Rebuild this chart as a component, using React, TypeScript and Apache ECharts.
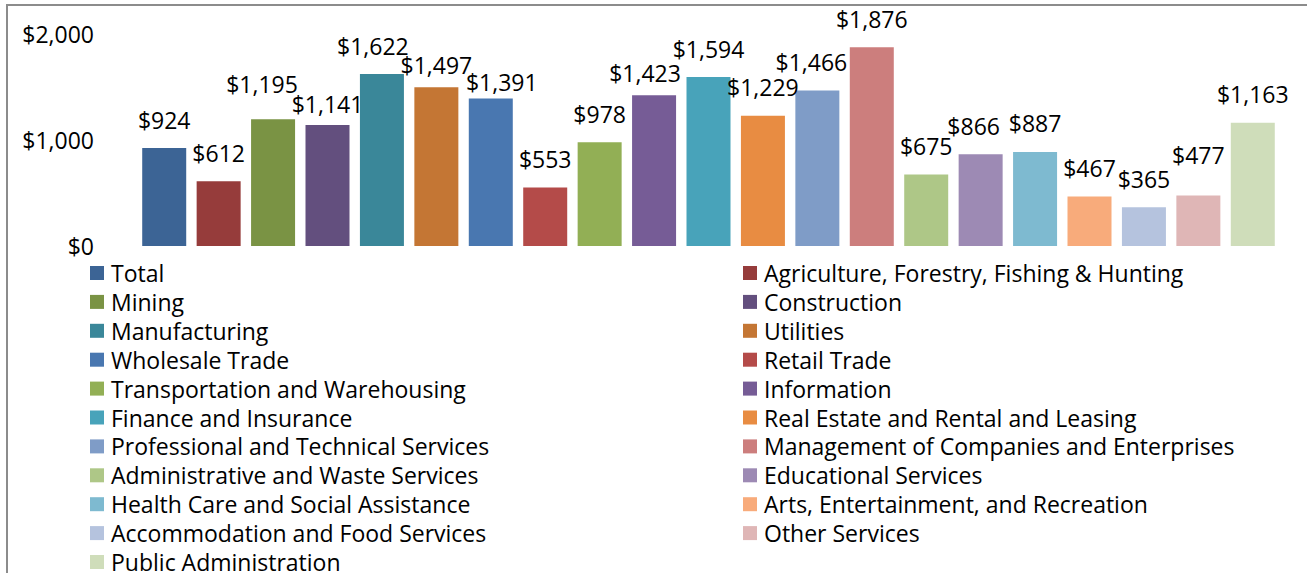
import React, { useEffect, useRef } from "react";
import * as echarts from "echarts";

const industries = [
  "Total",
  "Agriculture, Forestry, Fishing & Hunting",
  "Mining",
  "Construction",
  "Manufacturing",
  "Utilities",
  "Wholesale Trade",
  "Retail Trade",
  "Transportation and Warehousing",
  "Information",
  "Finance and Insurance",
  "Real Estate and Rental and Leasing",
  "Professional and Technical Services",
  "Management of Companies and Enterprises",
  "Administrative and Waste Services",
  "Educational Services",
  "Health Care and Social Assistance",
  "Arts, Entertainment, and Recreation",
  "Accommodation and Food Services",
  "Other Services",
  "Public Administration",
];

const earnings = [924, 612, 1195, 1141, 1622, 1497, 1391, 553, 978, 1423, 1594, 1229, 1466, 1876, 675, 866, 887, 467, 365, 477, 1163];

const colors = [
  "#3C6495", "#963C3B", "#7A9344", "#634F7E", "#3A8799", "#C47634", "#4977B0", "#B44B49",
  "#92AF55", "#765C96", "#48A3BA", "#E88C42", "#7F9CC7", "#CC7E7D", "#AEC787", "#9D8AB4",
  "#7EBAD0", "#F8AB7B", "#B5C3DE", "#DFB6B6", "#CFDDBA",
];

// manual label nudges (px), mimicking the reference's overlap avoidance
const labelNudges: [number, number][] = [
  [0, 0], [0, 0], [-11, -7], [0, 7], [-9, 0], [0, 6], [11, 12], [0, 0],
  [0, 0], [-9, 6], [0, 0], [0, 0], [-6, 0], [0, 0], [0, 0], [-7, 0],
  [0, 0], [0, 0], [0, 0], [0, -12], [0, 0],
];

const FONT = "Open Sans";
const FS = 23;

export default function App() {
  const ref = useRef<HTMLDivElement>(null);
  useEffect(() => {
    document.body.style.margin = "0";
    const chart = echarts.init(ref.current!, null, { renderer: "svg" });
    const series = industries.map((name, i) => ({
      name,
      type: "bar",
      barWidth: 44,
      barGap: "-100%",
      itemStyle: { color: colors[i] },
      label: {
        show: true,
        position: "top",
        distance: 17,
        offset: labelNudges[i],
        color: "#000",
        fontFamily: FONT,
        fontSize: FS,
        formatter: (p: any) => "$" + Number(p.value).toLocaleString("en-US"),
      },
      data: industries.map((_, j) => (j === i ? earnings[i] : "-")),
    }));
    const legendBase = {
      orient: "vertical",
      icon: "rect",
      itemWidth: 14,
      itemHeight: 14,
      itemGap: 5.9,
      height: 420,
      padding: 0,
      textStyle: { fontFamily: FONT, fontSize: FS, color: "#000", lineHeight: 23, padding: [0, 0, 0, 2] },
      top: 261.5,
    };
    chart.setOption({
      animation: false,
      textStyle: { fontFamily: FONT },
      grid: { left: 137, right: 27, top: 34, height: 212 },
      xAxis: {
        type: "category",
        data: industries,
        axisLine: { show: false },
        axisTick: { show: false },
        axisLabel: { show: false },
        splitLine: { show: false },
      },
      yAxis: {
        type: "value",
        min: 0,
        max: 2000,
        interval: 1000,
        axisLine: { show: false },
        axisTick: { show: false },
        splitLine: { show: false },
        axisLabel: {
          margin: 43,
          color: "#000",
          fontFamily: FONT,
          fontSize: FS,
          formatter: (v: number) => "$" + v.toLocaleString("en-US"),
        },
      },
      legend: [
        { ...legendBase, left: 90, data: industries.filter((_, i) => i % 2 === 0) },
        { ...legendBase, left: 743, data: industries.filter((_, i) => i % 2 === 1) },
      ],
      graphic: [
        {
          type: "polyline",
          shape: { points: [[7, 600], [7, 5], [1320, 5]] },
          style: { stroke: "#8c8c8c", lineWidth: 2, fill: "none" },
          silent: true,
        },
      ],
      series,
    });
    return () => chart.dispose();
  }, []);
  return <div ref={ref} style={{ width: 1307, height: 573 }} />;
}
